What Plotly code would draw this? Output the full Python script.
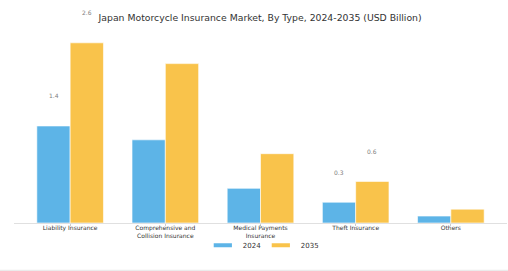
import plotly.graph_objects as go

categories = ["Liability Insurance", "Comprehensive and<br>Collision Insurance",
              "Medical Payments<br>Insurance", "Theft Insurance", "Others"]
years = ["2024", "2035"]
values_2024 = [1.4, 1.2, 0.5, 0.3, 0.1]
values_2035 = [2.6, 2.3, 1.0, 0.6, 0.2]
colors = ["#5DB4E7", "#F9C34B"]
# labels shown in the reference (category index, series index)
labelled = [(0, 0), (0, 1), (3, 0), (3, 1)]

series = [values_2024, values_2035]
fig = go.Figure()
for name, vals, col in zip(years, series, colors):
    fig.add_trace(go.Bar(
        x=categories, y=vals, name=name, showlegend=False,
        marker=dict(color=col, line=dict(color="rgba(255,255,255,0.6)", width=1)),
    ))
    fig.add_trace(go.Scatter(
        x=[None], y=[None], name=name, mode="markers",
        marker=dict(symbol="line-ew", size=13, color=col,
                    line=dict(color=col, width=4)),
    ))

bar_px = 33.3
for ci, si in labelled:
    v = series[si][ci]
    fig.add_annotation(
        x=categories[ci], y=v, text=f"{v:.1f}", showarrow=False,
        xshift=(si - 0.5) * bar_px, yshift=30,
        font=dict(size=6, color="#808080"),
    )

fig.update_layout(
    width=508, height=271,
    margin=dict(l=14, r=1, t=30, b=48),
    paper_bgcolor="white", plot_bgcolor="white",
    font=dict(family="DejaVu Sans", color="#333333"),
    title=dict(text="Japan Motorcycle Insurance Market, By Type, 2024-2035 (USD Billion)",
               x=0.512, xanchor="center", y=0.935, yanchor="middle",
               font=dict(size=9.3, color="#333333")),
    barmode="group", bargap=0.3, bargroupgap=0,
    legend=dict(orientation="h", x=0.383, xanchor="left", y=-0.115, yanchor="middle",
                font=dict(size=7, color="#333333"), itemwidth=30, entrywidth=13,
                bgcolor="rgba(0,0,0,0)"),
    shapes=[dict(type="line", xref="paper", yref="paper", x0=-0.03, x1=1.01,
                 y0=-0.245, y1=-0.245, line=dict(color="#e6e6e6", width=1))],
)
fig.update_xaxes(range=[-0.59, 4.59], showline=True, linecolor="#e0e0e0", linewidth=1,
                 ticks="outside", ticklen=2, tickcolor="#cccccc",
                 ticklabelstandoff=-3,
                 tickfont=dict(size=6, color="#333333"), showgrid=False)
fig.update_yaxes(range=[0, 2.785], visible=False, showgrid=False)

fig.write_html("out.html")
